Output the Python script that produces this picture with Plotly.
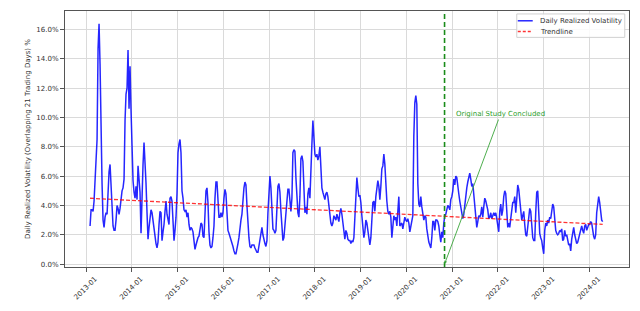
import pandas as pd
import plotly.graph_objects as go

# ---------------- data ----------------
start_date = "2013-02-02"
end_date = "2024-04-16"

# daily realized volatility, %, sampled roughly every 8 days
vol = [
    2.6, 3.7, 3.7, 3.6, 4.3, 5.8, 6.4, 8.5, 14.7, 16.4, 13.6, 7.8, 5.5, 3.0, 2.5, 3.2, 3.5, 3.4, 5.0, 6.3,
    6.8, 5.0, 3.5, 2.6, 2.3, 2.3, 3.0, 4.0, 3.8, 3.4, 3.8, 4.6, 5.0, 5.2, 5.8, 9.8, 11.6, 12.0, 14.6, 10.6,
    13.5, 10.5, 7.5, 5.7, 4.9, 4.5, 5.3, 4.4, 6.7, 6.0, 4.9, 2.1, 5.0, 6.8, 8.3, 7.1, 5.5, 3.5, 1.7, 2.5,
    3.4, 3.7, 3.5, 2.9, 2.5, 2.1, 1.4, 1.1, 1.5, 2.7, 3.6, 3.5, 1.6, 2.2, 2.7, 3.6, 4.3, 3.4, 2.9, 2.7,
    4.5, 4.6, 4.3, 2.5, 1.6, 2.3, 3.2, 4.8, 7.6, 8.2, 8.5, 7.6, 5.0, 4.5, 3.7, 3.6, 3.7, 3.2, 3.5, 2.7,
    2.3, 2.5, 2.4, 2.2, 1.6, 1.0, 1.3, 1.7, 1.8, 1.9, 2.3, 2.8, 2.7, 1.9, 1.8, 3.8, 5.0, 5.2, 4.2, 2.2,
    1.3, 1.1, 1.2, 1.8, 2.6, 4.5, 5.6, 5.6, 4.2, 3.2, 3.2, 3.5, 3.2, 3.5, 4.5, 5.1, 4.8, 3.4, 2.3, 2.1,
    1.9, 1.6, 1.4, 1.2, 0.9, 0.7, 0.7, 1.2, 1.4, 1.8, 2.6, 3.0, 3.4, 4.4, 5.2, 5.6, 5.4, 4.0, 2.5, 1.8,
    1.2, 1.1, 1.3, 1.3, 1.3, 1.1, 0.9, 0.8, 0.8, 1.3, 1.8, 2.2, 2.5, 2.0, 1.6, 1.4, 1.2, 1.6, 3.5, 5.3,
    6.0, 5.2, 3.5, 2.4, 2.3, 2.1, 2.3, 3.9, 5.3, 5.5, 4.9, 3.6, 2.4, 1.6, 1.8, 2.6, 3.9, 4.7, 5.1, 5.1,
    4.2, 3.6, 4.5, 7.6, 7.8, 7.7, 5.9, 4.2, 3.5, 3.2, 4.6, 7.2, 7.4, 7.0, 4.6, 3.5, 3.9, 3.4, 4.8, 5.2,
    4.5, 7.2, 8.2, 9.8, 8.5, 7.5, 7.3, 7.5, 7.1, 7.4, 8.0, 6.5, 5.2, 4.9, 4.6, 4.4, 4.8, 4.9, 4.6, 3.8,
    3.2, 2.8, 2.6, 2.8, 3.3, 3.1, 3.0, 3.4, 3.1, 2.9, 3.5, 3.8, 3.4, 2.8, 2.0, 1.7, 2.3, 2.1, 1.7, 1.6,
    1.6, 1.4, 1.6, 1.5, 1.8, 3.0, 4.6, 5.9, 5.2, 4.6, 4.7, 4.2, 3.3, 2.5, 1.8, 2.2, 3.0, 2.8, 2.3, 1.9,
    1.3, 1.8, 3.5, 4.2, 4.3, 3.6, 4.6, 5.3, 5.7, 5.3, 4.4, 5.3, 6.5, 6.7, 7.5, 6.8, 5.3, 4.3, 3.6, 3.4,
    3.6, 3.2, 1.8, 2.8, 3.3, 3.0, 3.2, 2.6, 3.5, 4.6, 2.6, 2.7, 2.8, 2.4, 3.0, 3.2, 3.0, 2.9, 3.1, 2.8,
    2.2, 2.6, 2.9, 3.3, 8.7, 11.0, 11.5, 10.9, 5.5, 4.1, 3.9, 4.6, 3.9, 3.3, 3.0, 3.3, 3.2, 2.4, 1.8, 1.5,
    1.3, 1.1, 1.8, 2.9, 2.9, 2.3, 3.0, 3.0, 2.9, 2.6, 2.0, 1.5, 2.2, 1.8, 2.8, 3.3, 3.4, 3.7, 4.0, 3.9,
    3.7, 4.4, 4.6, 5.0, 5.8, 5.4, 6.0, 5.9, 5.5, 4.8, 4.3, 3.9, 3.5, 3.1, 3.4, 4.1, 4.6, 5.2, 5.6, 6.0,
    6.2, 5.8, 5.3, 5.5, 4.8, 4.0, 2.9, 2.5, 2.9, 3.3, 3.2, 3.4, 3.9, 3.2, 3.9, 4.5, 4.3, 4.0, 3.7, 3.1,
    3.2, 3.5, 3.1, 3.3, 3.5, 3.3, 3.5, 3.1, 2.4, 2.2, 3.6, 4.1, 3.3, 3.7, 4.6, 5.0, 4.8, 3.2, 2.5, 2.8,
    2.5, 3.1, 3.7, 4.2, 4.2, 4.6, 3.5, 4.6, 5.4, 5.1, 4.3, 3.4, 3.0, 3.3, 3.6, 2.7, 2.0, 1.9, 2.6, 3.4,
    3.8, 3.6, 2.7, 1.8, 1.6, 1.6, 3.5, 4.9, 5.0, 3.5, 2.1, 1.8, 1.6, 1.1, 0.7, 2.3, 2.8, 2.6, 3.0, 2.8,
    3.2, 3.1, 3.7, 4.1, 3.9, 2.8, 2.3, 2.1, 2.0, 2.1, 2.3, 2.2, 2.4, 1.6, 1.7, 2.3, 1.9, 2.0, 1.5, 1.3,
    1.4, 0.9, 1.7, 2.3, 2.5, 2.0, 1.7, 1.4, 1.5, 1.8, 2.1, 2.5, 2.6, 2.3, 2.1, 2.6, 2.7, 2.3, 2.5, 2.7,
    2.7, 2.9, 2.8, 2.3, 1.9, 1.7, 2.0, 3.5, 4.1, 4.6, 4.2, 3.7, 3.0, 2.9,
]

trend_values = [4.49, 2.71]          # trendline at first and last date, %
study_end = "2020-11-01"             # end of the original study
y_ticks = [0, 2, 4, 6, 8, 10, 12, 14, 16]
y_tick_text = [f"{v:.1f}%" for v in y_ticks]
series_names = ["Daily Realized Volatility", "Trendline"]

dates = pd.date_range(start_date, end_date, periods=len(vol))
trend_dates = [dates[0], dates[-1]]

FONT = "DejaVu Sans"
GRID = "#dadada"
SPINE = "#555555"
TXT = "#333333"
BLUE = "rgba(0,0,255,0.85)"
RED = "rgba(255,0,0,0.8)"

fig = go.Figure()
fig.add_trace(go.Scatter(
    x=dates, y=vol, mode="lines", name=series_names[0], showlegend=False,
    line=dict(color=BLUE, width=1.5),
))
fig.add_trace(go.Scatter(
    x=trend_dates, y=trend_values, mode="lines", name=series_names[1], showlegend=False,
    line=dict(color=RED, width=1.3, dash="4px,2px"),
))

# vertical marker for the end of the original study
fig.add_shape(type="line", xref="x", yref="paper", x0=study_end, x1=study_end,
              y0=0, y1=1, line=dict(color="#1a8c1a", width=1.6, dash="5px,3px"))

fig.add_annotation(
    x=study_end, y=0, xref="x", yref="y",
    text="Original Study Concluded", showarrow=True,
    ax=56, ay=-150, axref="pixel", ayref="pixel",
    arrowhead=2, arrowsize=0.7, arrowwidth=0.9, arrowcolor="#3aa53a",
    font=dict(family=FONT, size=7, color="#2ca02c"),
)

# compact legend (matplotlib style), drawn in paper coordinates
fig.add_shape(type="rect", xref="paper", yref="paper", x0=0.801, x1=0.9925, y0=0.897, y1=0.9885,
              line=dict(color="#d0d0d0", width=1), fillcolor="rgba(255,255,255,0.85)", layer="above")
legend_rows = [(0.9618, BLUE, "solid"), (0.9198, RED, "3px,2px")]
for (ly, col, dash), name in zip(legend_rows, series_names):
    fig.add_shape(type="line", xref="paper", yref="paper", x0=0.8028, x1=0.8293, y0=ly, y1=ly,
                  line=dict(color=col, width=1.5, dash=dash), layer="above")
    fig.add_annotation(x=0.839, y=ly, xref="paper", yref="paper", text=name, showarrow=False,
                       xanchor="left", yanchor="middle",
                       font=dict(family=FONT, size=7, color=TXT))

fig.update_layout(
    width=640, height=311,
    margin=dict(l=65, r=11, t=10, b=39),
    paper_bgcolor="white", plot_bgcolor="white",
    font=dict(family=FONT, size=7, color=TXT),
    showlegend=False,
)

fig.update_xaxes(
    range=["2012-07-17", "2024-11-12"],
    tick0="2013-01-01", dtick="M12", tickformat="%Y-%m",
    tickangle=-45, ticklabelshift=9,
    ticks="outside", ticklen=4, tickcolor=SPINE,
    showgrid=True, gridcolor=GRID, gridwidth=1,
    showline=True, linecolor=SPINE, linewidth=1, mirror=True,
    zeroline=False, tickfont=dict(family=FONT, size=7, color=TXT),
)
fig.update_yaxes(
    range=[-0.2, 17.27],
    tickmode="array", tickvals=y_ticks, ticktext=y_tick_text,
    ticks="outside", ticklen=4, tickcolor=SPINE,
    showgrid=True, gridcolor=GRID, gridwidth=1,
    showline=True, linecolor=SPINE, linewidth=1, mirror=True,
    zeroline=False, tickfont=dict(family=FONT, size=7, color=TXT),
    title=dict(text="Daily Realized Volatility (Overlapping 21 Trading Days) %",
               font=dict(family=FONT, size=7, color=TXT), standoff=4),
)

fig.write_html("out.html")
